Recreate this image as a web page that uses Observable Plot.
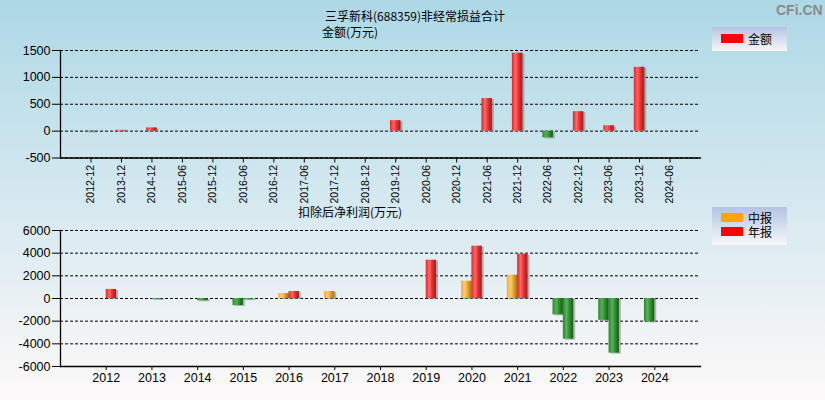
<!DOCTYPE html>
<html><head><meta charset="utf-8">
<script src="https://cdn.jsdelivr.net/npm/d3@7"></script>
<script src="https://cdn.jsdelivr.net/npm/@observablehq/plot@0.6"></script>
<style>
body{margin:0;}
#wrap{position:relative;width:825px;height:400px;background:linear-gradient(to bottom,#add8e6 0%,#fdf9f9 100%);font-family:"Noto Sans CJK SC",sans-serif;overflow:hidden;}
.abs{position:absolute;white-space:nowrap;}
.t{font-size:12px;color:#000;line-height:12px;}
.legend{position:absolute;left:712px;width:75px;background:linear-gradient(to bottom,#b4c3e0,#f8f7fb);}
.sw{position:absolute;left:9px;width:22px;height:9px;}
.lt{position:absolute;left:36px;font-size:12px;line-height:14px;color:#000;}
#wm{position:absolute;left:776px;top:2px;font:bold 14px "Liberation Sans",sans-serif;color:#8a8a8a;}
svg.plot{position:absolute;left:0;}
</style></head>
<body>
<svg width="0" height="0" style="position:absolute">
<defs>
<linearGradient id="gRed" x1="0" x2="1" y1="0" y2="0">
<stop offset="0" stop-color="#ee2020"/><stop offset="0.35" stop-color="#ff6a6a"/><stop offset="0.6" stop-color="#ee3030"/><stop offset="1" stop-color="#8e2222"/>
</linearGradient>
<linearGradient id="gGreen" x1="0" x2="1" y1="0" y2="0">
<stop offset="0" stop-color="#238a23"/><stop offset="0.35" stop-color="#5cb05c"/><stop offset="0.6" stop-color="#2f962f"/><stop offset="1" stop-color="#1a561a"/>
</linearGradient>
<linearGradient id="gOrange" x1="0" x2="1" y1="0" y2="0">
<stop offset="0" stop-color="#ffa820"/><stop offset="0.35" stop-color="#ffcc70"/><stop offset="0.6" stop-color="#eca836"/><stop offset="1" stop-color="#a07020"/>
</linearGradient>
</defs></svg>
<div id="wrap">
  <div class="abs t" style="left:325px;top:10px;">三孚新科(688359)非经常损益合计</div>
  <div class="abs t" style="left:322px;top:26px;">金额(万元)</div>
  <div class="abs t" style="left:298px;top:206px;">扣除后净利润(万元)</div>
  <div id="wm">CFi.CN</div>
  <div class="legend" style="top:27px;height:24px;">
    <div class="sw" style="top:7px;background:#ff0000;"></div><div class="lt" style="top:5px;">金额</div>
  </div>
  <div class="legend" style="top:207px;height:38px;">
    <div class="sw" style="top:6px;background:#ffa500;"></div>
    <div class="sw" style="top:20px;background:#ff0000;"></div>
    <div class="lt" style="top:4px;">中报<br>年报</div>
  </div>
</div>
<script>
const periods = ["2012-12","2013-12","2014-12","2015-06","2015-12","2016-06","2016-12","2017-06","2017-12","2018-12","2019-12","2020-06","2020-12","2021-06","2021-12","2022-06","2022-12","2023-06","2023-12","2024-06"];
const nonRecurring = [-15, 15, 60, null, null, null, null, null, null, null, 195, null, null, 605, 1450, -125, 362, 100, 1188, null];
const topTicks = [-500, 0, 500, 1000, 1500];

const years = ["2012","2013","2014","2015","2016","2017","2018","2019","2020","2021","2022","2023","2024"];
const interimProfit = [null, null, null, -620, 440, 620, null, null, 1530, 2060, -1440, -1930, -2060];
const annualProfit = [800, -80, -200, -100, 620, null, null, 3380, 4620, 3910, -3590, -4820, null];
const bottomTicks = [-6000, -4000, -2000, 0, 2000, 4000, 6000];

const wrap = document.getElementById("wrap");
const fmt = d => String(d);

const topData = periods.map((p, i) => ({period: p, value: nonRecurring[i]})).filter(d => d.value != null);

const chartTop = Plot.plot({
  width: 825, height: 200,
  marginTop: 50, marginBottom: 42.5, marginLeft: 60, marginRight: 125,
  style: {background: "transparent", fontFamily: "Liberation Sans, sans-serif", color: "#000", overflow: "visible"},
  x: {domain: periods, paddingInner: 0.6555, paddingOuter: 0.8278, round: false, label: null},
  y: {domain: [-500, 1500], label: null},
  marks: [
    Plot.gridY(topTicks, {stroke: "#000", strokeOpacity: 1, strokeDasharray: "3,2"}),
    Plot.barY(topData, {x: "period", y: "value", fill: "#8a8a8a", fillOpacity: 0.6, dx: 2, dy: 1}),
    Plot.barY(topData.filter(d => d.value >= 0), {x: "period", y: "value", fill: "url(#gRed)"}),
    Plot.barY(topData.filter(d => d.value < 0), {x: "period", y: "value", fill: "url(#gGreen)"}),
    Plot.frame({anchor: "left", stroke: "#000", strokeWidth: 1.3}),
    Plot.frame({anchor: "bottom", stroke: "#000", strokeWidth: 1.3}),
    Plot.axisY(topTicks, {tickSize: 8, tickPadding: 2, fontSize: 12.5, tickFormat: fmt, label: null}),
    Plot.axisX({tickRotate: -90, tickSize: 5, tickPadding: 2, fontSize: 10.5, label: null})
  ]
});
chartTop.style.top = "0px";
wrap.appendChild(chartTop);

const rows = years.map((y, i) => ({year: y, interim: interimProfit[i], annual: annualProfit[i]}));
const interimData = rows.filter(d => d.interim != null).map(d => ({year: d.year, value: d.interim}));
const annualData = rows.filter(d => d.annual != null).map(d => ({year: d.year, value: d.annual}));
const half = 10.33;

const chartBottom = Plot.plot({
  width: 825, height: 200,
  marginTop: 30, marginBottom: 34, marginLeft: 60, marginRight: 125,
  style: {background: "transparent", fontFamily: "Liberation Sans, sans-serif", color: "#000", overflow: "visible"},
  x: {domain: years, paddingInner: 0.548, paddingOuter: 0.774, round: false, label: null},
  y: {domain: [-6000, 6000], label: null},
  marks: [
    Plot.gridY(bottomTicks, {stroke: "#000", strokeOpacity: 1, strokeDasharray: "3,2"}),
    Plot.barY(interimData, {x: "year", y: "value", insetRight: half, fill: "#8a8a8a", fillOpacity: 0.6, dx: 2, dy: 1}),
    Plot.barY(annualData, {x: "year", y: "value", insetLeft: half, fill: "#8a8a8a", fillOpacity: 0.6, dx: 2, dy: 1}),
    Plot.barY(interimData.filter(d => d.value >= 0), {x: "year", y: "value", insetRight: half, fill: "url(#gOrange)"}),
    Plot.barY(interimData.filter(d => d.value < 0), {x: "year", y: "value", insetRight: half, fill: "url(#gGreen)"}),
    Plot.barY(annualData.filter(d => d.value >= 0), {x: "year", y: "value", insetLeft: half, fill: "url(#gRed)"}),
    Plot.barY(annualData.filter(d => d.value < 0), {x: "year", y: "value", insetLeft: half, fill: "url(#gGreen)"}),
    Plot.frame({anchor: "left", stroke: "#000", strokeWidth: 1.3}),
    Plot.frame({anchor: "bottom", stroke: "#000", strokeWidth: 1.3}),
    Plot.axisY(bottomTicks, {tickSize: 8, tickPadding: 2, fontSize: 12.5, tickFormat: fmt, label: null}),
    Plot.axisX({tickSize: 4, tickPadding: 3, fontSize: 12.5, label: null})
  ]
});
chartBottom.style.top = "200px";
wrap.appendChild(chartBottom);
</script>
</body></html>
